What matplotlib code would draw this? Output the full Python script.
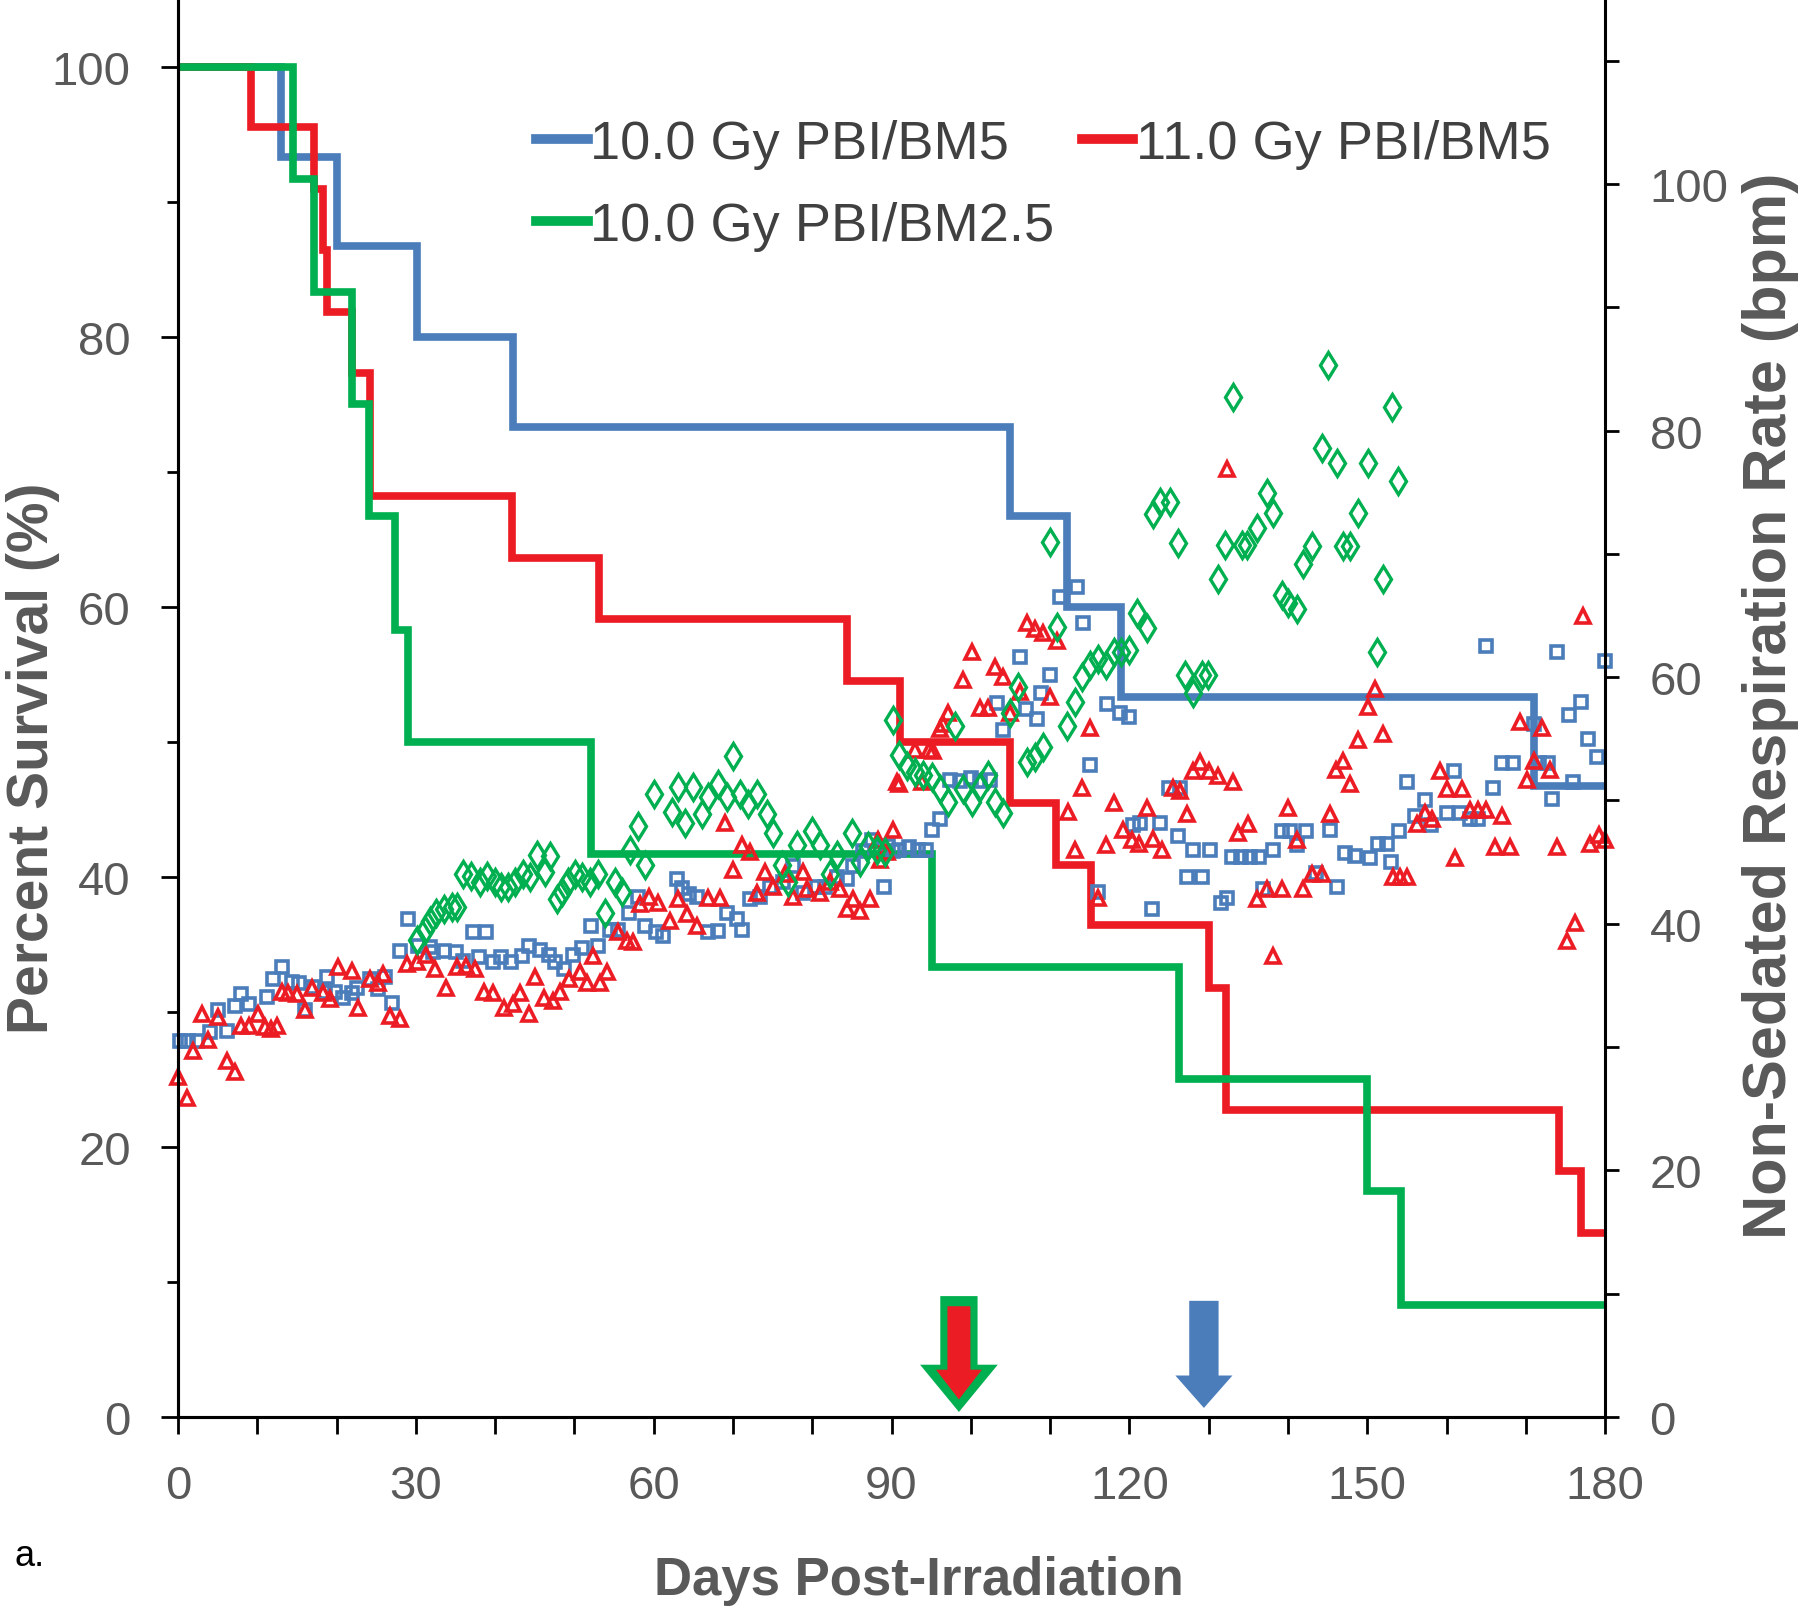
import matplotlib
matplotlib.use('Agg')
import matplotlib.pyplot as plt
from matplotlib.patches import FancyArrow
from matplotlib.lines import Line2D

plt.rcParams['font.family'] = ['Liberation Sans Narrow', 'Liberation Sans', 'DejaVu Sans']

BLUE = '#4A7DBA'
RED = '#EC1C24'
GREEN = '#00AF4F'
GREY = '#595959'

labels = ['10.0 Gy PBI/BM5', '11.0 Gy PBI/BM5', '10.0 Gy PBI/BM2.5']

# Kaplan-Meier survival (%), step changes at these days
blue_t = [0, 13, 20, 30.2, 42.2, 104.9, 112.1, 119, 171, 180]
blue_s = [100, 93.3, 86.7, 80.0, 73.3, 66.7, 60.0, 53.3, 46.7, 46.7]
red_t = [0, 9.2, 17.1, 18.3, 18.8, 22.0, 24.2, 42.1, 53.1, 84.4, 91.1, 104.9, 110.8,
         115.2, 130, 132.2, 174.2, 177, 180]
red_s = [100, 95.5, 90.9, 86.4, 81.8, 77.3, 68.2, 63.6, 59.1, 54.5, 50.0, 45.5, 40.9,
         36.4, 31.8, 22.7, 18.2, 13.6, 13.6]
green_t = [0, 14.5, 17.2, 22, 24.1, 27.4, 29, 52.1, 95.1, 126.2, 150, 154.2, 180]
green_s = [100, 91.7, 83.3, 75.0, 66.7, 58.3, 50.0, 41.7, 33.3, 25.0, 16.7, 8.3, 8.3]

# non-sedated respiration rate (bpm)
blue_day = [0.3, 1.3, 2.4, 4, 5, 6.2, 7.2, 8, 9, 11.2, 12, 13.1, 14.4, 15.2, 16, 17, 18.5,
            18.8, 19.8, 20.8, 22, 22.6, 24.2, 25.2, 26.1, 27, 28, 29, 30.3, 31.8, 32.2,
            33.6, 35, 36, 37.2, 38, 38.9, 39.7, 40.8, 42, 43.4, 44.3, 45.7, 46.8, 47.6,
            48.7, 49.8, 51, 52.1, 53, 54.5, 55.5, 56.9, 58, 58.9, 60.3, 61.2, 62.9, 63.6,
            64.5, 65.5, 66.8, 68.1, 69.2, 70.5, 71.1, 72.1, 73.4, 74.7, 76.3, 77.6, 78.8,
            80.6, 81.6, 83.1, 84.4, 85.1, 86.4, 87.5, 89, 89.5, 90.2, 91, 92.2, 93.3,
            94.4, 95.1, 96.1, 97.4, 98.6, 100, 101.2, 102.4, 103.3, 104.1, 106.2, 107,
            108.3, 108.9, 110, 111.2, 113.4, 114.1, 115, 116, 117.2, 118.8, 120, 120.5,
            121.3, 122.8, 123.8, 125, 126.1, 126.4, 127.3, 128, 129.2, 130.2, 131.5, 132.3,
            133, 134.1, 135.2, 136.4, 136.8, 138.1, 139.2, 140.2, 141.2, 142.3, 143.6,
            145.3, 146.2, 147.2, 148.5, 150.4, 151.3, 152.5, 153, 154, 155, 156, 157.3,
            158, 160, 161, 161.7, 163, 164, 165, 165.9, 167, 168.4, 171, 171.7, 172.8,
            173.3, 174, 175.4, 176, 177, 177.8, 179, 180]
blue_rr = [30.5, 30.5, 30.5, 31.2, 33, 31.3, 33.3, 34.3, 33.5, 34.1, 35.5, 36.5, 35.3,
           35.2, 33, 34.9, 34.5, 35.7, 34.5, 34, 34.4, 34.8, 35.5, 34.7, 35.7, 33.6, 37.8,
           40.4, 38.2, 38.1, 37.7, 37.8, 37.7, 37, 39.3, 37.3, 39.3, 36.9, 37.3, 36.9,
           37.4, 38.2, 37.9, 37.5, 36.9, 36.3, 37.5, 38, 39.8, 38.2, 39.5, 39.5, 40.9,
           42.2, 39.8, 39.3, 39, 43.6, 42.9, 42.4, 42.2, 39.3, 39.4, 40.9, 40.4, 39.5, 42,
           42.2, 43, 43.4, 44.7, 42.5, 43, 43, 43.8, 43.6, 44.7, 45.9, 46.8, 43, 46.3,
           45.9, 46, 46.2, 46, 46, 47.6, 48.5, 51.7, 51.6, 51.8, 51.6, 51.7, 57.9, 55.7,
           61.6, 57.4, 56.6, 58.7, 60.2, 66.5, 67.3, 64.4, 52.9, 42.6, 57.8, 57.1, 56.8,
           48, 48.2, 41.2, 48.2, 51, 47.1, 51, 43.8, 46, 43.8, 46, 41.7, 42.1, 45.4, 45.4,
           45.4, 45.4, 42.8, 46, 47.5, 47.5, 46.4, 47.5, 44.1, 47.6, 43, 45.7, 45.5, 45.3,
           46.5, 46.5, 45, 47.5, 51.5, 48.7, 50, 48, 49, 52.4, 49, 48.5, 48.5, 62.5, 51,
           53, 53, 56.2, 53, 53, 50.1, 62, 56.9, 51.5, 58, 55, 53.5, 61.3]

red_day = [0, 1.1, 1.9, 3, 3.8, 5, 6.2, 7.2, 8, 9, 10.1, 11, 11.7, 12.5, 13.1, 13.9, 15,
           16, 16.9, 18.3, 19.2, 20.2, 21.9, 22.7, 24.2, 25.2, 25.9, 26.7, 28, 28.9, 30.1,
           31.3, 32.4, 33.8, 35.2, 36.3, 37.5, 38.6, 39.7, 41.1, 42.3, 43.1, 44.3, 45,
           46.2, 47.3, 48.2, 49.3, 50.7, 51.6, 52.4, 53.2, 54.1, 55.5, 56.6, 57.4, 58.3,
           59.4, 60.5, 62, 63.1, 64.2, 65.5, 66.9, 68.4, 69, 70, 71.1, 72.1, 73, 74, 75,
           76.6, 77.6, 78.8, 79.3, 81, 82.2, 83.5, 84.4, 85.1, 86, 87.3, 88.3, 88.5, 89.4,
           90.2, 90.7, 91, 93, 93.8, 94.7, 95.2, 96.1, 96.5, 97.1, 99, 100.2, 101.2, 102.2,
           103.1, 104.1, 105, 106.2, 107.1, 108.1, 109.1, 110, 110.9, 112.3, 113.1, 114,
           115, 116, 117, 118, 119.2, 120.3, 121.2, 122.2, 123, 124.1, 125.5, 126.4,
           127.3, 128, 128.9, 130, 131.2, 132.3, 133.1, 133.7, 135, 136.1, 137.4, 138.1,
           139.3, 140, 141.1, 141.9, 143, 144.3, 145.3, 146, 147, 147.8, 148.8, 150.1,
           151, 152, 153.3, 154.1, 155, 156.3, 157.3, 158.2, 159.2, 160, 161.1, 162, 163,
           164, 165, 166.1, 167, 168, 169.3, 170.2, 171, 172, 173, 173.9, 175.2, 176.2,
           177.2, 178.1, 179.2, 180]
red_rr = [27.6, 25.9, 29.7, 32.7, 30.6, 32.4, 28.9, 28, 31.7, 31.7, 32.7, 31.6, 31.5,
          31.7, 34.5, 34.4, 34.3, 33, 34.8, 34.4, 33.9, 36.5, 36.2, 33.2, 35.5, 35.2, 35.9,
          32.5, 32.3, 36.7, 36.9, 37.5, 36.3, 34.8, 36.5, 36.6, 36.3, 34.5, 34.4, 33.2,
          33.5, 34.4, 32.7, 35.7, 34, 33.7, 34.5, 35.5, 36.1, 35.2, 37.4, 35.2, 36.1, 39.3,
          38.6, 38.5, 41.6, 42.2, 41.7, 40.2, 42, 40.8, 39.8, 42.1, 42.1, 48.2, 44.4, 46.4,
          45.8, 42.5, 44.2, 43, 44, 42.2, 44.2, 42.8, 42.5, 43.4, 42.8, 41.2, 42, 41, 42,
          46.8, 45.2, 45.8, 47.6, 51.5, 51.3, 54.1, 51.5, 54.1, 54, 55.8, 56.2, 57.1, 59.8,
          62, 57.5, 57.5, 60.8, 60, 57.1, 58.8, 64.4, 63.9, 63.6, 58.4, 62.9, 49.1, 46, 51,
          55.9, 42.1, 46.4, 49.8, 47.6, 46.8, 46.5, 49.4, 46.9, 46, 51, 50.8, 48.9, 52.4,
          53.1, 52.4, 52, 76.9, 51.5, 47.4, 48.1, 42, 42.8, 37.4, 42.8, 49.4, 46.8, 42.8,
          44, 44, 48.9, 52.5, 53.2, 51.3, 54.9, 57.6, 59, 55.4, 43.8, 43.8, 43.8, 48.1, 49,
          48.5, 52.4, 50.9, 45.3, 50.9, 49.2, 49.2, 49.2, 46.2, 48.7, 46.2, 56.4, 51.7,
          53.2, 55.9, 52.5, 46.2, 38.6, 40.1, 65, 46.5, 47.2, 46.8]

green_day = [30.1, 31.2, 31.8, 32.6, 33.5, 34.5, 35.2, 36, 37, 38.1, 39, 40, 40.8, 41.6,
             42.5, 43.5, 44.4, 45.3, 46.3, 46.9, 47.8, 48.4, 49.2, 50.1, 51, 52, 53, 53.9,
             55.1, 56, 57, 58, 58.9, 60, 62.3, 63.1, 64, 65, 66.1, 66.9, 68.1, 69.2, 70,
             70.9, 71.9, 73, 74.3, 75.1, 76.2, 77, 78.1, 80, 81, 82.2, 83.1, 85, 86, 87,
             88.2, 89.2, 90.2, 91, 92, 93, 94, 95.1, 96.1, 97.1, 98, 99, 100.2, 101.2,
             102.2, 103.1, 104.1, 105, 106, 107.1, 108.1, 109.1, 110, 110.9, 112.1, 113.1,
             114, 115, 116, 117, 118, 119, 120, 121, 122.2, 123, 123.9, 125.1, 126.1, 127,
             128, 129.2, 129.9, 131.2, 132.1, 133.1, 134.2, 134.8, 136.1, 137.4, 138.1,
             139.2, 140, 141.1, 141.9, 143, 144.3, 145, 146.2, 147, 147.8, 148.8, 150.1,
             151.2, 152, 153.1, 153.9]
green_rr = [38.7, 39.5, 40.2, 40.9, 41.2, 41.4, 41.4, 44, 43.9, 43.4, 43.9, 43.4, 43, 43,
            43.4, 44, 43.8, 45.6, 44.2, 45.5, 42, 42.6, 43.4, 44, 43.8, 43.4, 44, 40.9,
            43.4, 42.6, 46, 47.9, 44.8, 50.5, 49.1, 51.1, 48.2, 51.1, 48.9, 50.3, 51.3,
            50.3, 53.6, 50.5, 49.7, 50.5, 48.9, 47.4, 44.8, 43.4, 46.4, 47.5, 46.4, 44,
            45.6, 47.4, 45, 46.3, 46, 45.8, 56.5, 53.7, 52.8, 52.3, 52.1, 51.9, 50.9, 49.9,
            56, 50.9, 49.9, 51.1, 52.1, 49.9, 49, 57.1, 59.2, 53.1, 53.5, 54.3, 71, 64.1,
            56, 58, 60, 61, 61.5, 61, 62, 62, 62.2, 65.2, 64, 73.2, 74.2, 74.2, 70.9, 60.2,
            58.7, 60.2, 60.2, 68, 70.7, 82.7, 70.7, 70.7, 72.1, 74.9, 73.3, 66.7, 66, 65.5,
            69.2, 70.6, 78.6, 85.3, 77.4, 70.6, 70.6, 73.3, 77.4, 62, 68, 81.9, 75.9]

# arrows marking onset days (x, top %, tip %)
arrow_green = (98.5, 8.95, 0.37)
arrow_red = (98.5, 8.2, 1.3)
arrow_blue = (129.4, 8.6, 0.67)

fig = plt.figure(figsize=(18, 16.15), dpi=100)
ax = fig.add_axes([0.0989, 0.122, 0.7928, 0.878])
ax2 = ax.twinx()

for t, s, c in [(blue_t, blue_s, BLUE), (red_t, red_s, RED), (green_t, green_s, GREEN)]:
    ax.step(t, s, where='post', color=c, lw=5.5, solid_joinstyle='miter')

for (x, y0, y1), c, w, hw, hl in [(arrow_green, GREEN, 4.7, 9.8, 3.5),
                                  (arrow_red, RED, 2.9, 5.8, 2.2),
                                  (arrow_blue, BLUE, 3.7, 7.2, 2.4)]:
    ax.add_patch(FancyArrow(x, y0, 0, y1 - y0, width=w, head_width=hw, head_length=hl,
                            length_includes_head=True, color=c, lw=0))

ax2.plot(blue_day, blue_rr, ls='none', marker='s', ms=8, mfc='none', mec=BLUE, mew=2.6,
         clip_on=False)
ax2.plot(red_day, red_rr, ls='none', marker='^', ms=10.5, mfc='none', mec=RED, mew=2.6,
         clip_on=False)
ax2.plot(green_day, green_rr, ls='none', marker='d', ms=13, mfc='none', mec=GREEN, mew=2.4,
         clip_on=False)

ax.set_xlim(0, 180)
ax.set_ylim(0, 105)
ax2.set_ylim(0, 115)
ax.set_xticks(range(0, 181, 30))
ax.set_xticks(range(0, 181, 10), minor=True)
ax.set_yticks(range(0, 101, 20))
ax.set_yticks(range(10, 100, 20), minor=True)
ax2.set_yticks(range(0, 101, 20))
ax2.set_yticks(range(10, 115, 20), minor=True)

for a in (ax, ax2):
    a.spines['top'].set_visible(False)
    for sp in a.spines.values():
        sp.set_linewidth(2.2)
ax.spines['right'].set_visible(False)
ax.tick_params(axis='x', which='both', length=12, width=2, pad=22, labelsize=34,
               labelcolor=GREY)
ax.tick_params(axis='y', which='major', length=12, width=2, pad=22, labelsize=34,
               labelcolor=GREY)
ax.tick_params(axis='y', which='minor', length=8, width=2)
ax2.tick_params(axis='y', which='major', length=10, width=2, pad=22, labelsize=34,
                labelcolor=GREY)
ax2.tick_params(axis='y', which='minor', length=10, width=2)

ax.set_ylabel('Percent Survival (%)', fontsize=41, fontweight='bold', color=GREY)
ax.yaxis.set_label_coords(-0.083, 0.465)
ax.set_xlabel('Days Post-Irradiation', fontsize=38, fontweight='bold', color=GREY)
ax.xaxis.set_label_coords(0.519, -0.097)
ax2.set_ylabel('Non-Sedated Respiration Rate (bpm)', fontsize=44, fontweight='bold',
               color=GREY)
ax2.yaxis.set_label_coords(1.096, 0.502)

handles = [Line2D([], [], color=c, lw=7) for c in (BLUE, GREEN, RED)]
ax2.legend(handles, [labels[0], labels[2], labels[1]], ncol=2, loc='upper left',
           bbox_to_anchor=(0.251, 0.9155), frameon=False, fontsize=39, handlelength=0.95,
           handletextpad=0.05, columnspacing=0.5, labelspacing=0.6, borderpad=0,
           borderaxespad=0, labelcolor='#404040')

fig.text(0.008, 0.0365, 'a.', fontsize=26, family=['Liberation Sans', 'DejaVu Sans'],
         va='center')

fig.savefig('out.png', dpi=100)
